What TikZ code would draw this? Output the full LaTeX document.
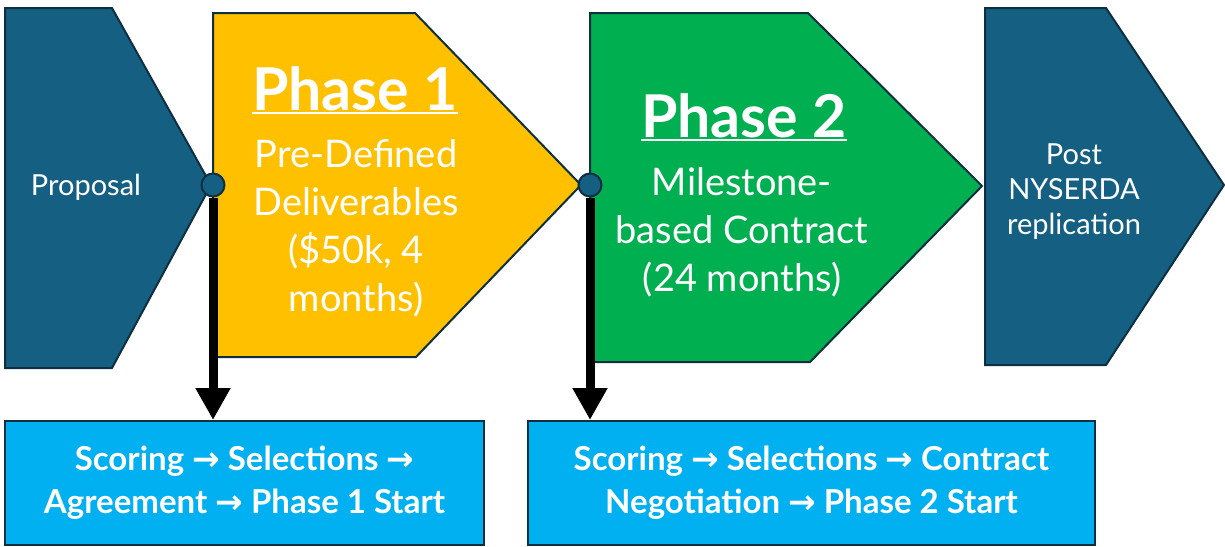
\documentclass[tikz,border=0pt]{standalone}
\usepackage{fontspec}
\setmainfont{Lato}
\newfontfamily\arrowfont{DejaVu Sans}
\usetikzlibrary{arrows.meta}
\definecolor{navy}{HTML}{156082}
\definecolor{edge}{HTML}{0E2F40}
\definecolor{gold}{HTML}{FFC000}
\definecolor{leaf}{HTML}{00B050}
\definecolor{sky}{HTML}{00B0F0}
\tikzset{
  >={Triangle[length=32pt,width=33pt]},
}
\tikzstyle{chev}=[draw=edge,line width=2]
\tikzstyle{dot}=[circle,draw=edge,line width=2,fill=navy,minimum size=23,inner sep=0]
\tikzstyle{bar}=[line width=9,->]
\tikzstyle{head}=[text=white,anchor=base,font=\fontsize{59}{64}\selectfont\bfseries]
\tikzstyle{body}=[text=white,align=center,font=\fontsize{38}{48}\selectfont]
\tikzstyle{small}=[text=white,align=center,font=\fontsize{29}{35}\selectfont]
\tikzstyle{stagebox}=[draw=edge,line width=2,fill=sky,text=white,align=center,
  inner sep=0,font=\fontsize{33}{43}\selectfont\bfseries]
\newcommand\phasehead[1]{\setbox0\hbox{#1}\rlap{\rule[-4pt]{\wd0}{2pt}}\box0}
\newcommand\arr{{\arrowfont\bfseries →}}

\begin{document}
\begin{tikzpicture}[x=1pt,y=-1pt]
  \useasboundingbox (0,0) rectangle (1225,546);
  % chevrons
  \filldraw[chev,fill=navy] (5,8) -- (112,8) -- (211,185) -- (112,368) -- (5,368) -- cycle;
  \filldraw[chev,fill=gold] (213,13) -- (415,13) -- (581,185) -- (416,357) -- (213,357) -- cycle;
  \filldraw[chev,fill=leaf] (590,13) -- (808,13) -- (982,186) -- (810,362) -- (590,362) -- cycle;
  \filldraw[chev,fill=navy] (985,8) -- (1106,8) -- (1224,185) -- (1106,365) -- (985,365) -- cycle;
  \node[small] (prop) at (86,187) {Proposal};
  \node[head] (p1head) at (355,110) {\phasehead{Phase 1}};
  \node[body] (p1text) at (356,228) {Pre-Defined\\Deliverables\\(\$50k, 4\\months)};
  \node[head] (p2head) at (744,137) {\phasehead{Phase 2}};
  \node[body] (p2text) at (742,232) {Milestone-\\based Contract\\(24 months)};
  \node[small] (post) at (1074,192) {Post\\NYSERDA\\replication};
  % steps
  \node[stagebox,minimum width=479,minimum height=124] (b1) at (244.5,483)
    {Scoring \arr{} Selections \arr\\Agreement \arr{} Phase 1 Start};
  \node[stagebox,minimum width=567,minimum height=124] (b2) at (811.5,483)
    {Scoring \arr{} Selections \arr{} Contract\\Negotiation \arr{} Phase 2 Start};
  \node[dot] (d1) at (213,185) {};
  \node[dot] (d2) at (590,185) {};
  \draw[bar] (d1.south) -- (d1.south |- b1.north);
  \draw[bar] (d2.south) -- (d2.south |- b2.north);
\end{tikzpicture}
\end{document}
